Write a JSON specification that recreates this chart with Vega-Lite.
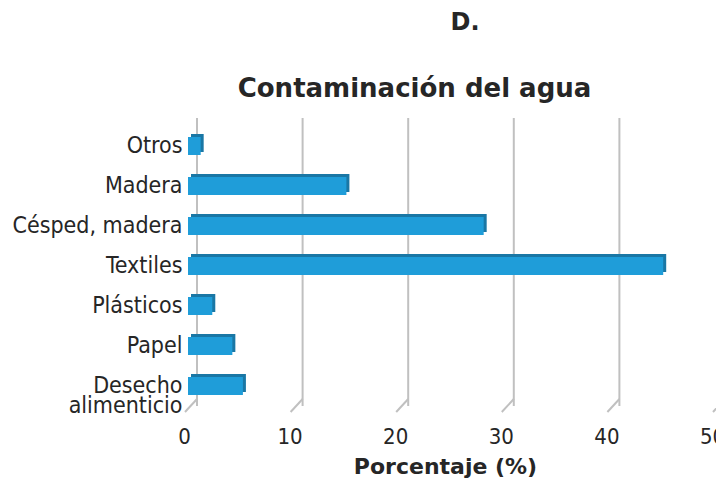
{
  "$schema": "https://vega.github.io/schema/vega-lite/v6.json",
  "width": 528,
  "height": 280,
  "autosize": "none",
  "padding": {"left": 188, "top": 126, "right": 0, "bottom": 73},
  "background": "white",
  "title": {
    "text": "D.",
    "font": "DejaVu Sans",
    "fontSize": 24,
    "fontWeight": "bold",
    "color": "#262626",
    "anchor": "middle",
    "frame": "group",
    "dx": 13,
    "offset": 40
  },
  "config": {
    "view": {"stroke": null},
    "font": "DejaVu Sans"
  },
  "datasets": {
    "grid": [{"v": 0}, {"v": 10}, {"v": 20}, {"v": 30}, {"v": 40}, {"v": 50}],
    "main": [
      {"categoria": "Otros", "porcentaje": 1.2},
      {"categoria": "Madera", "porcentaje": 15},
      {"categoria": "Césped, madera", "porcentaje": 28},
      {"categoria": "Textiles", "porcentaje": 45},
      {"categoria": "Plásticos", "porcentaje": 2.3},
      {"categoria": "Papel", "porcentaje": 4.2},
      {"categoria": "Desecho alimenticio", "porcentaje": 5.2}
    ]
  },
  "resolve": {"axis": {"x": "independent"}},
  "layer": [
    {
      "data": {"name": "grid"},
      "mark": {"type": "rule", "color": "#C0C0C0", "strokeWidth": 2, "xOffset": 9, "yOffset": -8},
      "encoding": {
        "x": {
          "field": "v",
          "type": "quantitative",
          "scale": {"domain": [0, 50], "nice": false},
          "axis": {
            "orient": "top",
            "title": "Contaminación del agua",
            "titleFont": "DejaVu Sans",
            "titleFontSize": 26,
            "titleFontWeight": "bold",
            "titleColor": "#262626",
            "titleX": 226,
            "titleY": -30,
            "titleAlign": "center",
            "titleBaseline": "alphabetic",
            "labels": false,
            "ticks": false,
            "domain": false,
            "grid": false
          }
        }
      }
    },
    {
      "data": {"name": "grid"},
      "mark": {"type": "rule", "color": "#C0C0C0", "strokeWidth": 2, "xOffset": 9, "x2Offset": -3, "yOffset": -7, "y2Offset": 6},
      "encoding": {
        "x": {"field": "v", "type": "quantitative", "axis": null},
        "x2": {"field": "v"},
        "y": {"datum": "Desecho alimenticio", "type": "nominal", "bandPosition": 1},
        "y2": {"datum": "Desecho alimenticio", "bandPosition": 1}
      }
    },
    {
      "data": {"name": "main"},
      "mark": {"type": "bar", "color": "#1A77A5", "height": 18, "xOffset": 3, "yOffset": -3},
      "encoding": {
        "x": {"field": "porcentaje", "type": "quantitative", "axis": null},
        "y": {"field": "categoria", "type": "nominal", "sort": null}
      }
    },
    {
      "data": {"name": "main"},
      "mark": {"type": "bar", "color": "#1F9DD9", "height": 18},
      "encoding": {
        "x": {
          "field": "porcentaje",
          "type": "quantitative",
          "axis": {
            "orient": "bottom",
            "values": [0, 10, 20, 30, 40, 50],
            "title": "Porcentaje (%)",
            "titleFont": "DejaVu Sans",
            "titleFontSize": 22,
            "titleFontWeight": "bold",
            "titleColor": "#262626",
            "titleX": 257,
            "titlePadding": 9,
            "labelFont": "DejaVu Sans Condensed",
            "labelFontSize": 22,
            "labelColor": "#262626",
            "labelPadding": 20,
            "labelOffset": -4,
            "labelFlush": false,
            "labelOverlap": false,
            "ticks": false,
            "domain": false,
            "grid": false
          }
        },
        "y": {
          "field": "categoria",
          "type": "nominal",
          "sort": null,
          "scale": {
            "domain": ["Otros", "Madera", "Césped, madera", "Textiles", "Plásticos", "Papel", "Desecho alimenticio"],
            "paddingInner": 0,
            "paddingOuter": 0
          },
          "axis": {
            "title": null,
            "ticks": false,
            "domain": false,
            "labelFont": "DejaVu Sans Condensed",
            "labelFontSize": 23,
            "labelColor": "#262626",
            "labelPadding": 6,
            "labelLimit": 300,
            "labelLineHeight": 20,
            "labelExpr": "datum.value == 'Desecho alimenticio' ? ['Desecho', 'alimenticio'] : datum.value"
          }
        }
      }
    }
  ]
}
